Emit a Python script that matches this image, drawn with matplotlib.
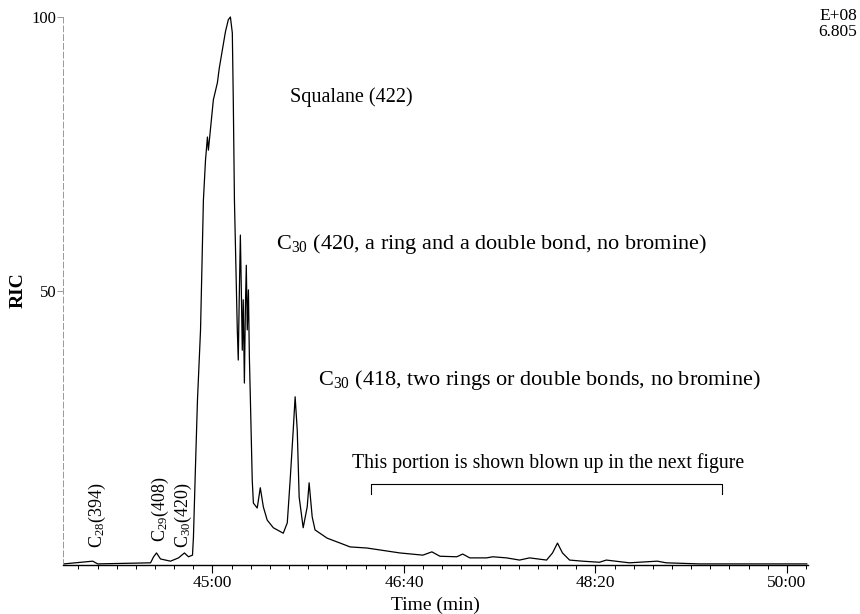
import numpy as np
import matplotlib
matplotlib.use("Agg")
import matplotlib.pyplot as plt
from matplotlib.ticker import FuncFormatter, MultipleLocator

plt.rcParams['font.family'] = ['Liberation Serif', 'DejaVu Serif']
plt.rcParams['mathtext.default'] = 'regular'

# retention time (s) and relative ion current (%)
time_s = [2622.4, 2637.5, 2640.1, 2667.7, 2669.3, 2670.8, 2672.9, 2678.1,
          2682.3, 2685.4, 2687.5, 2689.6, 2690.1, 2691.1, 2692.2, 2693.8,
          2695.3, 2696.4, 2697.4, 2697.9, 2700.5, 2702.6, 2703.6, 2705.2,
          2706.8, 2708.3, 2709.4, 2710.4, 2710.9, 2711.5, 2713.0, 2713.5,
          2714.0, 2714.6, 2715.1, 2715.6, 2716.1, 2716.7, 2717.2, 2717.7,
          2718.2, 2718.8, 2719.3, 2719.8, 2720.8, 2721.4, 2723.4, 2725.0,
          2726.6, 2728.6, 2731.8, 2737.0, 2739.1, 2740.6, 2742.2, 2743.2,
          2744.3, 2745.3, 2747.4, 2749.5, 2750.5, 2752.1, 2753.6, 2759.9,
          2766.7, 2771.9, 2780.7, 2797.9, 2809.9, 2814.6, 2818.8, 2827.6,
          2830.7, 2834.4, 2843.2, 2846.4, 2853.6, 2860.4, 2865.6, 2874.5,
          2877.6, 2880.2, 2882.8, 2886.5, 2893.2, 2902.1, 2905.7, 2917.7,
          2932.3, 2937.0, 2954.2, 2980.2, 3010.4]
ric = [0.2, 0.7, 0.2, 0.4, 1.5, 2.2, 1.1, 0.7,
       1.3, 2.2, 1.5, 1.8, 5.1, 17.3, 30.1, 42.9,
       66.6, 73.9, 78.1, 75.7, 84.9, 88.0, 90.7, 94.0,
       97.3, 99.5, 100.0, 97.1, 84.9, 66.6, 42.9, 37.4,
       48.4, 60.2, 50.2, 39.2, 48.4, 33.2, 46.5, 54.7,
       42.9, 50.2, 38.0, 30.7, 15.5, 11.3, 10.4, 14.1,
       10.6, 8.2, 6.8, 5.8, 7.7, 15.5, 24.6, 30.7,
       24.6, 12.4, 6.8, 10.6, 15.0, 8.8, 6.4, 4.9,
       4.0, 3.3, 3.1, 2.2, 1.8, 2.4, 1.6, 1.5,
       2.0, 1.3, 1.3, 1.5, 1.3, 0.9, 1.3, 0.9,
       2.2, 4.0, 2.2, 0.9, 0.7, 0.5, 0.9, 0.4,
       0.7, 0.4, 0.2, 0.2, 0.2]

blowup_start, blowup_end = 2782.8, 2966.1
major_ticks = [2700, 2800, 2900, 3000]


def mmss(t, pos=None):
    return "%d:%02d" % (int(t) // 60, int(t) % 60)


fig = plt.figure(figsize=(8.6, 6.14), dpi=100)
ax = fig.add_axes([0.0733, 0.0798, 0.8662, 0.8925])
ax.plot(time_s, ric, color='black', lw=0.9, clip_on=False)

ax.set_xlim(2622, 3011)
ax.set_ylim(0, 100)
ax.set_xticks(major_ticks)
ax.xaxis.set_major_formatter(FuncFormatter(mmss))
ax.xaxis.set_minor_locator(MultipleLocator(10))
ax.set_yticks([50, 100])
ax.set_yticklabels(['50', '100'])
ax.tick_params(axis='x', which='major', length=6, width=0.8, labelsize=12.5, pad=1)
ax.tick_params(axis='x', which='minor', length=3, width=0.7)
ax.tick_params(axis='y', length=4, width=0.6, color='#888888', labelsize=12, pad=1)

for s in ['top', 'right']:
    ax.spines[s].set_visible(False)
ax.spines['bottom'].set_linewidth(1.0)
ax.spines['left'].set_color('#999999')
ax.spines['left'].set_linewidth(0.7)
ax.spines['left'].set_linestyle((0, (6, 3)))

ax.set_xlabel('Time (min)', fontsize=14, labelpad=4)
fig.text(18 / 860, 1 - 290 / 614, 'RIC', rotation=90, fontsize=14,
         fontweight='bold', ha='center', va='center')
fig.text(857 / 860, 1 - 16 / 614, 'E+08', fontsize=12.5, ha='right', va='center')
fig.text(857 / 860, 1 - 32 / 614, '6.805', fontsize=12.5, ha='right', va='center')

ax.text(2740.6, 85.4, 'Squalane (422)', fontsize=14.5, va='center')
ax.text(2733.3, 58.6, 'C$_{30}$ (420, a ring and a double bond, no bromine)',
        fontsize=16, va='center')
ax.text(2755.2, 33.8, 'C$_{30}$ (418, two rings or double bonds, no bromine)',
        fontsize=16, va='center')
ax.text(2772.9, 18.6, 'This portion is shown blown up in the next figure',
        fontsize=14.2, va='center')

# bracket over the region enlarged later
ax.plot([blowup_start, blowup_start, blowup_end, blowup_end],
        [13.0, 14.8, 14.8, 13.0], color='black', lw=0.8)

ax.text(2640.1, 3.1, 'C$_{28}$(394)', rotation=90, fontsize=13,
        ha='center', va='bottom')
ax.text(2672.9, 4.2, 'C$_{29}$(408)', rotation=90, fontsize=13,
        ha='center', va='bottom')
ax.text(2684.9, 3.1, 'C$_{30}$(420)', rotation=90, fontsize=13,
        ha='center', va='bottom')

fig.savefig('out.png', dpi=100)
